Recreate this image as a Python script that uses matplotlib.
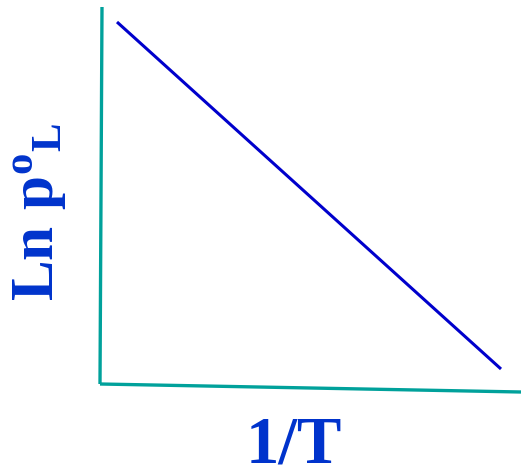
import matplotlib
matplotlib.use("Agg")
import matplotlib.pyplot as plt

plt.rcParams['mathtext.fontset'] = 'custom'
plt.rcParams['mathtext.rm'] = 'Liberation Serif:bold'
plt.rcParams['mathtext.bf'] = 'Liberation Serif:bold'
plt.rcParams['mathtext.it'] = 'Liberation Serif:bold'

# Schematic data (canvas units, y grows downward)
line_x = [117, 501]
line_y = [23, 370]
yaxis_x = [102, 100]
yaxis_y = [8, 385]
xaxis_x = [100, 521]
xaxis_y = [385, 393]

xlabel = "1/T"
ylabel = r"$\mathrm{Ln\ p^{o}{}_{L}}$"

fig = plt.figure(figsize=(5.21, 4.77), dpi=100)
ax = fig.add_axes([0, 0, 1, 1])
ax.set_xlim(0, 521)
ax.set_ylim(477, 0)
ax.axis('off')

teal = '#00A19B'
ax.plot(yaxis_x, yaxis_y, color=teal, lw=2.4, solid_capstyle='butt')
ax.plot(xaxis_x, xaxis_y, color=teal, lw=2.4, solid_capstyle='butt')
ax.plot(line_x, line_y, color='#0000CC', lw=2.2, solid_capstyle='butt')

ax.text(294, 446, xlabel, color='#0033CC', fontsize=48, fontweight='bold',
        family='Liberation Serif', ha='center', va='center')
ax.text(38, 212, ylabel, color='#0033CC', fontsize=44, rotation=90,
        ha='center', va='center')

fig.savefig("out.png", dpi=100)
